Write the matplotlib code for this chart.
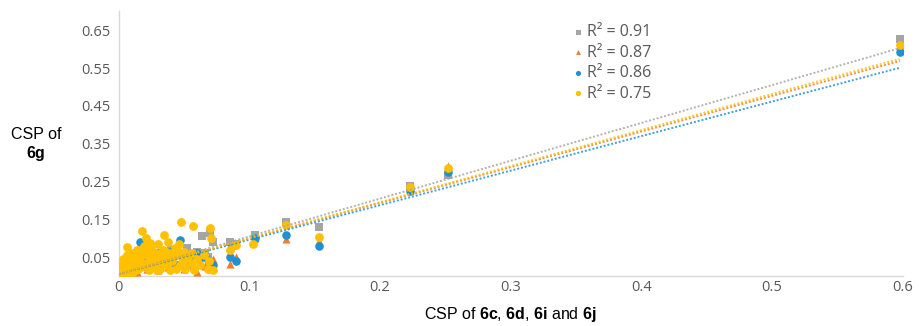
import matplotlib
matplotlib.use("Agg")
import matplotlib.pyplot as plt
import numpy as np

plt.rcParams['mathtext.fontset'] = 'custom'
plt.rcParams['mathtext.rm'] = 'Liberation Sans'
plt.rcParams['mathtext.bf'] = 'Liberation Sans:bold'

# series data (x = CSP of 6c/6d/6i/6j, y = CSP of 6g)
grey_x = [0.001, 0.004, 0.008, 0.012, 0.016, 0.020, 0.024, 0.028, 0.032, 0.036,
          0.040, 0.044, 0.048, 0.052, 0.056, 0.060, 0.064, 0.066, 0.068, 0.070,
          0.072, 0.085, 0.087, 0.090, 0.104, 0.128, 0.153, 0.223, 0.252, 0.598]
grey_y = [0.010, 0.020, 0.030, 0.015, 0.040, 0.025, 0.050, 0.035, 0.060, 0.045,
          0.070, 0.030, 0.055, 0.075, 0.040, 0.065, 0.107, 0.060, 0.050, 0.113,
          0.090, 0.090, 0.080, 0.085, 0.110, 0.143, 0.130, 0.238, 0.267, 0.627]

orange_x = [0.002, 0.006, 0.010, 0.014, 0.018, 0.022, 0.026, 0.030, 0.034, 0.038,
            0.042, 0.046, 0.050, 0.054, 0.057, 0.060, 0.066, 0.070, 0.072, 0.085,
            0.090, 0.104, 0.128, 0.153, 0.223, 0.252, 0.598]
orange_y = [0.008, 0.015, 0.020, 0.010, 0.030, 0.020, 0.040, 0.015, 0.050, 0.025,
            0.035, 0.060, 0.020, 0.045, 0.030, 0.012, 0.027, 0.030, 0.045, 0.032,
            0.050, 0.100, 0.098, 0.093, 0.228, 0.290, 0.610]

blue_x = [0.001, 0.005, 0.009, 0.013, 0.016, 0.019, 0.023, 0.027, 0.031, 0.035,
          0.039, 0.043, 0.047, 0.050, 0.054, 0.057, 0.060, 0.064, 0.068, 0.072,
          0.085, 0.090, 0.104, 0.128, 0.153, 0.223, 0.252, 0.598]
blue_y = [0.012, 0.020, 0.035, 0.025, 0.090, 0.040, 0.030, 0.055, 0.020, 0.045,
          0.065, 0.030, 0.095, 0.050, 0.035, 0.042, 0.060, 0.050, 0.042, 0.030,
          0.050, 0.040, 0.100, 0.108, 0.079, 0.225, 0.275, 0.593]

yellow_x = [0.000, 0.002, 0.003, 0.004, 0.005, 0.006, 0.007, 0.008, 0.009, 0.010,
            0.011, 0.012, 0.013, 0.014, 0.015, 0.016, 0.018, 0.019, 0.020, 0.021,
            0.022, 0.023, 0.024, 0.025, 0.026, 0.028, 0.029, 0.030, 0.031, 0.032,
            0.034, 0.035, 0.036, 0.037, 0.038, 0.040, 0.041, 0.043, 0.044, 0.045,
            0.046, 0.048, 0.049, 0.050, 0.051, 0.053, 0.055, 0.057, 0.058, 0.060,
            0.062, 0.065, 0.068, 0.070, 0.071, 0.072, 0.085, 0.090, 0.103, 0.128,
            0.153, 0.223, 0.252, 0.598,
            0.001, 0.003, 0.006, 0.008, 0.011, 0.013, 0.017, 0.019, 0.022, 0.027,
            0.029, 0.033, 0.036, 0.039, 0.042, 0.047, 0.052, 0.056, 0.016, 0.024,
            0.033, 0.045, 0.009, 0.004, 0.069]
yellow_y = [0.005, 0.012, 0.020, 0.008, 0.030, 0.077, 0.015, 0.040, 0.025, 0.060,
            0.010, 0.050, 0.035, 0.070, 0.020, 0.045, 0.120, 0.065, 0.030, 0.100,
            0.055, 0.015, 0.040, 0.075, 0.025, 0.060, 0.035, 0.085, 0.045, 0.020,
            0.070, 0.108, 0.050, 0.030, 0.090, 0.060, 0.040, 0.075, 0.020, 0.055,
            0.085, 0.143, 0.045, 0.065, 0.020, 0.050, 0.035, 0.132, 0.015, 0.045,
            0.030, 0.055, 0.020, 0.127, 0.100, 0.016, 0.069, 0.083, 0.085, 0.135,
            0.103, 0.235, 0.285, 0.611,
            0.030, 0.045, 0.055, 0.020, 0.035, 0.015, 0.025, 0.080, 0.035, 0.050,
            0.015, 0.040, 0.065, 0.015, 0.055, 0.030, 0.040, 0.060, 0.060, 0.088,
            0.060, 0.070, 0.005, 0.040, 0.040]

# linear trendlines (slope, intercept) and R^2 labels
trend_slope = [1.000, 0.943, 0.913, 0.953]
trend_icpt = [0.005, 0.005, 0.005, 0.005]
labels = ["R² = 0.91", "R² = 0.87", "R² = 0.86", "R² = 0.75"]

colors = ["#A5A5A5", "#ED7D31", "#1E90D6", "#FFC000"]
markers = ["s", "^", "o", "o"]
sizes = [36, 34, 38, 40]
xs = [grey_x, orange_x, blue_x, yellow_x]
ys = [grey_y, orange_y, blue_y, yellow_y]

fig = plt.figure(figsize=(9.2, 3.26), dpi=100)
ax = fig.add_axes([0.129, 0.153, 0.852, 0.812])

handles = []
for i in range(4):
    h = ax.scatter(xs[i], ys[i], s=sizes[i], marker=markers[i], color=colors[i],
                   linewidths=0, label=labels[i], zorder=3 + i)
    handles.append(h)
for i in range(4):
    tx = np.array([0.0, 0.598])
    ax.plot(tx, trend_slope[i] * tx + trend_icpt[i], color=colors[i],
            linestyle=(0, (1, 1)), linewidth=1.4, alpha=0.85, zorder=8)

ax.set_xlim(0, 0.6)
ax.set_ylim(0, 0.7)
ax.set_xticks([0, 0.1, 0.2, 0.3, 0.4, 0.5, 0.6])
ax.set_xticklabels(["0", "0.1", "0.2", "0.3", "0.4", "0.5", "0.6"])
ax.set_yticks([0.05, 0.15, 0.25, 0.35, 0.45, 0.55, 0.65])
ax.set_yticklabels(["0.05", "0.15", "0.25", "0.35", "0.45", "0.55", "0.65"])
ax.tick_params(axis="y", length=0, labelsize=10.5, labelcolor="#595959", pad=6)
ax.tick_params(axis="x", length=0, labelsize=10.5, labelcolor="#595959", pad=3)
for t in ax.get_xticklabels() + ax.get_yticklabels():
    t.set_family("Open Sans")
for s in ["top", "right"]:
    ax.spines[s].set_visible(False)
for s in ["left", "bottom"]:
    ax.spines[s].set_color("#D9D9D9")
    ax.spines[s].set_linewidth(1)

leg = fig.legend(handles=handles, loc="upper left", bbox_to_anchor=(0.608, 0.97),
                 frameon=False, handlelength=0.5, handletextpad=0.3,
                 labelspacing=0.28, markerscale=0.6,
                 prop={"family": "Open Sans", "size": 11.5})
for t in leg.get_texts():
    t.set_color("#595959")

fig.text(0.555, 0.035, r"CSP of $\mathbf{6c}$, $\mathbf{6d}$, $\mathbf{6i}$ and $\mathbf{6j}$",
         ha="center", va="center", fontsize=11.5, family="Liberation Sans")
fig.text(0.039, 0.555, "CSP of\n" + r"$\mathbf{6g}$", ha="center", va="center",
         multialignment="center", fontsize=11.5, family="Liberation Sans", linespacing=1.1)

fig.savefig("out.png", dpi=100)
